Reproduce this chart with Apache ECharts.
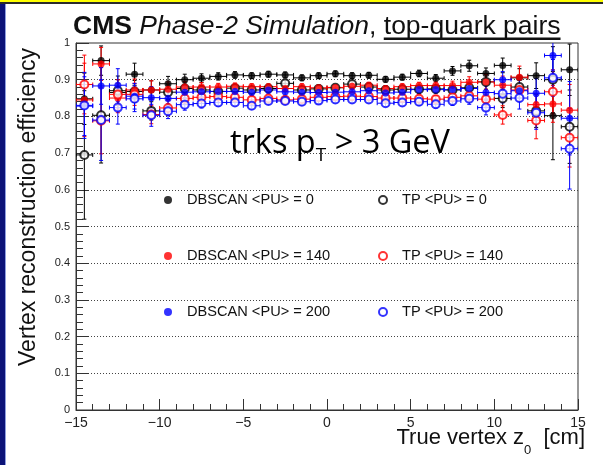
<!DOCTYPE html>
<html>
<head>
<meta charset="utf-8">
<script src="https://cdn.jsdelivr.net/npm/echarts@6/dist/echarts.min.js"></script>
<style>
  html, body { margin: 0; padding: 0; background: #fff; }
  #chart { width: 603px; height: 465px; }
</style>
</head>
<body>
<div id="chart"></div>
<script>
// bin centres of the true vertex z0 (cm), 1 cm bins
const zCenters = [-14.5, -13.5, -12.5, -11.5, -10.5, -9.5, -8.5, -7.5, -6.5, -5.5,
  -4.5, -3.5, -2.5, -1.5, -0.5, 0.5, 1.5, 2.5, 3.5, 4.5,
  5.5, 6.5, 7.5, 8.5, 9.5, 10.5, 11.5, 12.5, 13.5, 14.5]

const effDbscanPU0 = [0.848, 0.952, 0.865, 0.915, 0.872, 0.889, 0.900, 0.904, 0.909, 0.913,
  0.911, 0.915, 0.913, 0.905, 0.911, 0.916, 0.911, 0.912, 0.901, 0.907,
  0.917, 0.904, 0.924, 0.938, 0.917, 0.939, 0.905, 0.911, 0.802, 0.927]
const errDbscanPU0 = [0.07, 0.04, 0.035, 0.03, 0.025, 0.02, 0.015, 0.012, 0.01, 0.009,
  0.008, 0.008, 0.008, 0.008, 0.008, 0.008, 0.008, 0.008, 0.008, 0.008,
  0.009, 0.01, 0.012, 0.015, 0.015, 0.02, 0.025, 0.035, 0.12, 0.07]

const effTpPU0 = [0.695, 0.803, 0.870, 0.868, 0.815, 0.866, 0.876, 0.872, 0.868, 0.877,
  0.872, 0.876, 0.890, 0.872, 0.875, 0.878, 0.888, 0.880, 0.872, 0.874,
  0.874, 0.875, 0.872, 0.878, 0.894, 0.849, 0.880, 0.815, 0.900, 0.772]
const errTpPU0 = [0.175, 0.13, 0.04, 0.03, 0.025, 0.02, 0.015, 0.012, 0.01, 0.009,
  0.008, 0.008, 0.008, 0.008, 0.008, 0.008, 0.008, 0.008, 0.008, 0.008,
  0.009, 0.01, 0.012, 0.015, 0.02, 0.025, 0.03, 0.045, 0.09, 0.1]

const effDbscanPU140 = [0.845, 0.943, 0.850, 0.872, 0.872, 0.874, 0.880, 0.880, 0.880, 0.882,
  0.881, 0.881, 0.876, 0.881, 0.878, 0.879, 0.882, 0.885, 0.876, 0.881,
  0.884, 0.884, 0.884, 0.893, 0.894, 0.885, 0.907, 0.832, 0.834, 0.817]
const errDbscanPU140 = [0.1, 0.045, 0.04, 0.03, 0.025, 0.02, 0.015, 0.012, 0.01, 0.009,
  0.008, 0.008, 0.008, 0.008, 0.008, 0.008, 0.008, 0.008, 0.008, 0.008,
  0.009, 0.01, 0.012, 0.015, 0.02, 0.025, 0.03, 0.03, 0.05, 0.07]

const effTpPU140 = [0.887, 0.788, 0.860, 0.860, 0.805, 0.823, 0.849, 0.852, 0.854, 0.852,
  0.845, 0.849, 0.845, 0.847, 0.852, 0.854, 0.855, 0.854, 0.850, 0.850,
  0.848, 0.847, 0.852, 0.856, 0.847, 0.804, 0.872, 0.789, 0.867, 0.742]
const errTpPU140 = [0.08, 0.09, 0.04, 0.03, 0.025, 0.02, 0.015, 0.012, 0.01, 0.009,
  0.009, 0.009, 0.009, 0.009, 0.009, 0.009, 0.009, 0.009, 0.009, 0.009,
  0.01, 0.01, 0.012, 0.015, 0.018, 0.025, 0.03, 0.05, 0.06, 0.08]

const effDbscanPU200 = [0.828, 0.883, 0.885, 0.855, 0.851, 0.849, 0.866, 0.867, 0.868, 0.868,
  0.866, 0.872, 0.867, 0.866, 0.865, 0.866, 0.867, 0.870, 0.864, 0.866,
  0.873, 0.873, 0.873, 0.876, 0.865, 0.900, 0.870, 0.863, 0.966, 0.795]
const errDbscanPU200 = [0.08, 0.05, 0.045, 0.035, 0.03, 0.02, 0.015, 0.012, 0.01, 0.009,
  0.009, 0.009, 0.009, 0.009, 0.009, 0.009, 0.009, 0.009, 0.009, 0.009,
  0.01, 0.01, 0.012, 0.015, 0.018, 0.022, 0.03, 0.04, 0.04, 0.1]

const effTpPU200 = [0.830, 0.790, 0.824, 0.848, 0.803, 0.814, 0.832, 0.835, 0.838, 0.838,
  0.829, 0.842, 0.842, 0.840, 0.843, 0.846, 0.846, 0.846, 0.836, 0.838,
  0.840, 0.833, 0.842, 0.848, 0.824, 0.862, 0.850, 0.810, 0.905, 0.712]
const errTpPU200 = [0.09, 0.11, 0.045, 0.035, 0.03, 0.02, 0.015, 0.012, 0.01, 0.009,
  0.009, 0.009, 0.009, 0.009, 0.009, 0.009, 0.009, 0.009, 0.009, 0.009,
  0.01, 0.01, 0.012, 0.015, 0.02, 0.025, 0.03, 0.045, 0.05, 0.11]

const halfBin = 0.5
const FONT = '"Liberation Sans", Arial, sans-serif'

const curves = [
  { name: 'DBSCAN <PU> = 0', eff: effDbscanPU0, err: errDbscanPU0, color: '#000000', filled: true },
  { name: 'TP <PU> = 0', eff: effTpPU0, err: errTpPU0, color: '#000000', filled: false },
  { name: 'DBSCAN <PU> = 140', eff: effDbscanPU140, err: errDbscanPU140, color: '#ff0000', filled: true },
  { name: 'TP <PU> = 140', eff: effTpPU140, err: errTpPU140, color: '#ff0000', filled: false },
  { name: 'DBSCAN <PU> = 200', eff: effDbscanPU200, err: errDbscanPU200, color: '#0000ff', filled: true },
  { name: 'TP <PU> = 200', eff: effTpPU200, err: errTpPU200, color: '#0000ff', filled: false },
]

const errorBar = (color) => (params, api) => {
  const x = api.value(0)
  const y = api.value(1)
  const e = api.value(2)
  const l = api.coord([x - halfBin, y])
  const r = api.coord([x + halfBin, y])
  const t = api.coord([x, y + e])
  const b = api.coord([x, y - e])
  const c = 2
  const style = { stroke: color, lineWidth: 1 }
  const seg = (x1, y1, x2, y2) => ({ type: 'line', shape: { x1, y1, x2, y2 }, style })
  return {
    type: 'group',
    children: [
      seg(l[0], l[1], r[0], r[1]),
      seg(t[0], t[1], b[0], b[1]),
      seg(t[0] - c, t[1], t[0] + c, t[1]),
      seg(b[0] - c, b[1], b[0] + c, b[1]),
      seg(l[0], l[1] - c, l[0], l[1] + c),
      seg(r[0], r[1] - c, r[0], r[1] + c),
    ],
  }
}

const series = []
curves.forEach((cv, k) => {
  const pts = zCenters.map((z, i) => [z, cv.eff[i], cv.err[i]])
  series.push({
    name: 'err' + k,
    type: 'custom',
    clip: true,
    renderItem: errorBar(cv.color),
    data: pts,
    encode: { x: 0, y: 1 },
    silent: true,
    z: 2,
  })
  series.push({
    name: cv.name,
    type: 'scatter',
    data: pts.map((p) => [p[0], p[1]]),
    symbol: cv.filled ? 'circle' : 'emptyCircle',
    symbolSize: cv.filled ? 7 : 8,
    itemStyle: cv.filled
      ? { color: cv.color }
      : { color: cv.color, borderColor: cv.color, borderWidth: 1.3 },
    z: 3,
  })
})

// title pieces, measured so the underline sits under "top-quark pairs"
const titleX = 73
const titleSize = 26.5
const ctx = document.createElement('canvas').getContext('2d')
const measure = (font, s) => { ctx.font = font; return ctx.measureText(s).width }
const uStart = titleX + measure('bold ' + titleSize + 'px ' + FONT, 'CMS') + measure(titleSize + 'px ' + FONT, ' ') +
  measure('italic ' + titleSize + 'px ' + FONT, 'Phase-2 Simulation') + measure(titleSize + 'px ' + FONT, ', ')
const uWidth = measure(titleSize + 'px ' + FONT, 'top-quark pairs')

const legendBase = {
  orient: 'vertical',
  top: 187,
  itemGap: 40,
  itemWidth: 8,
  itemHeight: 8,
  selectedMode: false,
  textStyle: { fontFamily: FONT, fontSize: 14.6, lineHeight: 16, color: '#111' },
}

const chart = echarts.init(document.getElementById('chart'))
chart.setOption({
  animation: false,
  backgroundColor: '#ffffff',
  grid: { left: 76, right: 25, top: 43, bottom: 55, show: true, borderColor: '#333', borderWidth: 1 },
  legend: [
    Object.assign({}, legendBase, {
      left: 159,
      data: ['DBSCAN <PU> = 0', 'DBSCAN <PU> = 140', 'DBSCAN <PU> = 200'],
      textStyle: Object.assign({}, legendBase.textStyle, { padding: [0, 0, 0, 10] }),
    }),
    Object.assign({}, legendBase, {
      left: 373,
      data: ['TP <PU> = 0', 'TP <PU> = 140', 'TP <PU> = 200'],
      textStyle: Object.assign({}, legendBase.textStyle, { padding: [0, 0, 0, 10] }),
    }),
  ],
  xAxis: {
    type: 'value',
    min: -15,
    max: 15,
    interval: 5,
    axisLine: { onZero: false, lineStyle: { color: '#333', width: 1 } },
    axisTick: { inside: true, length: 11, lineStyle: { color: '#333' } },
    minorTick: { show: true, splitNumber: 5, length: 6, lineStyle: { color: '#333' } },
    splitLine: { show: false },
    axisLabel: {
      margin: 6,
      fontFamily: FONT,
      fontSize: 14,
      color: '#222',
      formatter: (v) => (v < 0 ? '\u2212' + Math.abs(v) : String(v)),
    },
  },
  yAxis: {
    type: 'value',
    min: 0,
    max: 1,
    interval: 0.1,
    axisLine: { show: true, onZero: false, lineStyle: { color: '#333', width: 1 } },
    axisTick: { show: true, inside: true, length: 13, lineStyle: { color: '#333' } },
    minorTick: { show: true, splitNumber: 5, length: 7, lineStyle: { color: '#333' } },
    splitLine: {
      show: true,
      showMinLine: false,
      showMaxLine: false,
      lineStyle: { color: '#444', width: 1, type: [1, 2] },
    },
    axisLabel: { margin: 6, fontFamily: FONT, fontSize: 11, color: '#222' },
  },
  graphic: [
    // slide frame
    { type: 'rect', shape: { x: 0, y: 0, width: 603, height: 2 }, style: { fill: '#ffff00' }, silent: true },
    { type: 'rect', shape: { x: 0, y: 2, width: 603, height: 2 }, style: { fill: '#2b2b2b' }, silent: true },
    { type: 'rect', shape: { x: 0, y: 4, width: 5, height: 461 }, style: { fill: '#0c1378' }, silent: true },
    { type: 'rect', shape: { x: 5, y: 4, width: 1, height: 461 }, style: { fill: '#8f9fe0' }, silent: true },
    // title
    {
      type: 'text',
      x: titleX,
      y: 12,
      silent: true,
      style: {
        text: '{b|CMS} {i|Phase-2 Simulation}, top-quark pairs',
        font: titleSize + 'px ' + FONT,
        fill: '#111',
        verticalAlign: 'top',
        rich: {
          b: { fontWeight: 'bold', fontSize: titleSize, fontFamily: FONT, lineHeight: 30, fill: '#111' },
          i: { fontStyle: 'italic', fontSize: titleSize, fontFamily: FONT, lineHeight: 30, fill: '#111' },
        },
      },
    },
    { type: 'rect', shape: { x: uStart, y: 37.5, width: uWidth, height: 2.5 }, style: { fill: '#111' }, silent: true },
    // annotation
    {
      type: 'text',
      x: 230,
      y: 122,
      silent: true,
      style: {
        text: '{a|trks p}{s|T}{a| > 3 GeV}',
        verticalAlign: 'top',
        rich: {
          a: { fontFamily: '"Open Sans", sans-serif', fontSize: 32.5, lineHeight: 44, fill: '#000' },
          s: { fontFamily: '"Open Sans", sans-serif', fontSize: 19, lineHeight: 19, padding: [24, 0, 0, 0], fill: '#000' },
        },
      },
    },
    // axis titles
    {
      type: 'text',
      x: 585,
      y: 419,
      silent: true,
      style: {
        text: '{m|True vertex z}{s|0}{m|  [cm]}',
        align: 'right',
        verticalAlign: 'top',
        rich: {
          m: { fontFamily: FONT, fontSize: 22, lineHeight: 38, fill: '#111' },
          s: { fontFamily: FONT, fontSize: 13, lineHeight: 13, padding: [24, 0, 0, 0], fill: '#111' },
        },
      },
    },
    {
      type: 'text',
      x: 29,
      y: 207,
      rotation: Math.PI / 2,
      silent: true,
      style: {
        text: 'Vertex reconstruction efficiency',
        font: '23px ' + FONT,
        fill: '#111',
        align: 'center',
        verticalAlign: 'middle',
      },
    },
  ],
  series,
})
</script>
</body>
</html>
